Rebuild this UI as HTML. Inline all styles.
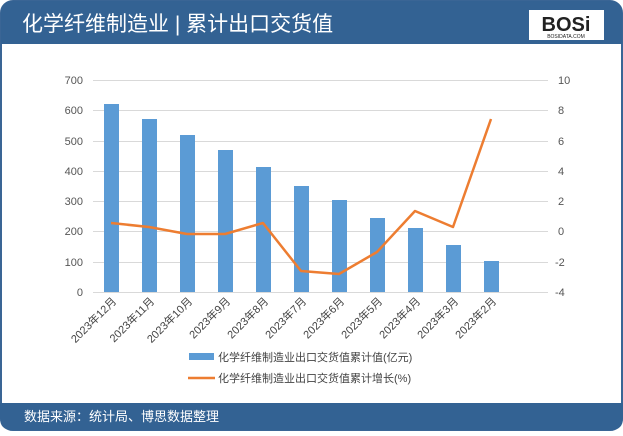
<!DOCTYPE html><html><head><meta charset="utf-8"><style>
body{margin:0;width:623px;height:431px;background:#fff;overflow:hidden;font-family:"Liberation Sans","Noto Sans CJK SC",sans-serif}
</style></head><body>
<svg width="623" height="431" xmlns="http://www.w3.org/2000/svg" font-family="Liberation Sans, Noto Sans CJK SC, sans-serif">
<rect x="1" y="1" width="621" height="429" rx="12" fill="#fff" stroke="#3a6595" stroke-width="2"/>
<path d="M1 13 Q1 1 13 1 L610 1 Q622 1 622 13 L622 44 L1 44 Z" fill="#336293"/>
<text x="22" y="31" font-size="21" fill="#fff">化学纤维制造业 | 累计出口交货值</text>
<rect x="529" y="10" width="75" height="30" fill="#fff"/>
<text x="566" y="31" font-size="20" font-weight="bold" fill="#222" text-anchor="middle">BOSi</text>
<text x="566" y="38" font-size="5" fill="#222" text-anchor="middle">BOSIDATA.COM</text>
<path d="M0 403 L623 403 L623 418 Q623 430 611 430 L12 430 Q0 430 0 418 Z" fill="#336293"/>
<text x="24" y="421" font-size="13" fill="#fff">数据来源：统计局、博思数据整理</text>
<g stroke="#d9d9d9" stroke-width="1">
<line x1="93" y1="80.5" x2="548" y2="80.5"/><line x1="93" y1="110.5" x2="548" y2="110.5"/><line x1="93" y1="141.5" x2="548" y2="141.5"/><line x1="93" y1="171.5" x2="548" y2="171.5"/><line x1="93" y1="201.5" x2="548" y2="201.5"/><line x1="93" y1="231.5" x2="548" y2="231.5"/><line x1="93" y1="262.5" x2="548" y2="262.5"/><line x1="93" y1="292.5" x2="548" y2="292.5"/>
</g>
<g font-size="11" fill="#555" text-anchor="end">
<text x="83" y="84">700</text><text x="83" y="114">600</text><text x="83" y="145">500</text><text x="83" y="175">400</text><text x="83" y="205">300</text><text x="83" y="235">200</text><text x="83" y="266">100</text><text x="83" y="296">0</text>
</g>
<g font-size="11" fill="#555" text-anchor="start">
<text x="558" y="84">10</text><text x="558" y="114">8</text><text x="558" y="145">6</text><text x="558" y="175">4</text><text x="558" y="205">2</text><text x="558" y="235">0</text><text x="555" y="266">-2</text><text x="555" y="296">-4</text>
</g>
<g fill="#5b9bd5">
<rect x="104" y="104" width="15" height="188"/><rect x="142" y="119" width="15" height="173"/><rect x="180" y="135" width="15" height="157"/><rect x="218" y="150" width="15" height="142"/><rect x="256" y="167" width="15" height="125"/><rect x="294" y="186" width="15" height="106"/><rect x="332" y="200" width="15" height="92"/><rect x="370" y="218" width="15" height="74"/><rect x="408" y="228" width="15" height="64"/><rect x="446" y="245" width="15" height="47"/><rect x="484" y="261" width="15" height="31"/>
</g>
<polyline fill="none" stroke="#ed7d31" stroke-width="2.5" stroke-linejoin="round" points="111,223 149,227 187,234 225,234 263,223 301,271 339,274 377,252 415,211 453,227 491,119"/>
<g font-size="11" fill="#444" text-anchor="end">
<text transform="translate(117,302) rotate(-45)">2023年12月</text>
<text transform="translate(155,302) rotate(-45)">2023年11月</text>
<text transform="translate(193,302) rotate(-45)">2023年10月</text>
<text transform="translate(231,302) rotate(-45)">2023年9月</text>
<text transform="translate(269,302) rotate(-45)">2023年8月</text>
<text transform="translate(307,302) rotate(-45)">2023年7月</text>
<text transform="translate(345,302) rotate(-45)">2023年6月</text>
<text transform="translate(383,302) rotate(-45)">2023年5月</text>
<text transform="translate(421,302) rotate(-45)">2023年4月</text>
<text transform="translate(459,302) rotate(-45)">2023年3月</text>
<text transform="translate(497,302) rotate(-45)">2023年2月</text>
</g>
<rect x="189" y="353" width="25" height="7" fill="#5b9bd5"/>
<text x="218" y="361" font-size="11" fill="#444">化学纤维制造业出口交货值累计值(亿元)</text>
<line x1="188" y1="378" x2="215" y2="378" stroke="#ed7d31" stroke-width="2.5"/>
<text x="218" y="382" font-size="11" fill="#444">化学纤维制造业出口交货值累计增长(%)</text>
</svg>
</body></html>
